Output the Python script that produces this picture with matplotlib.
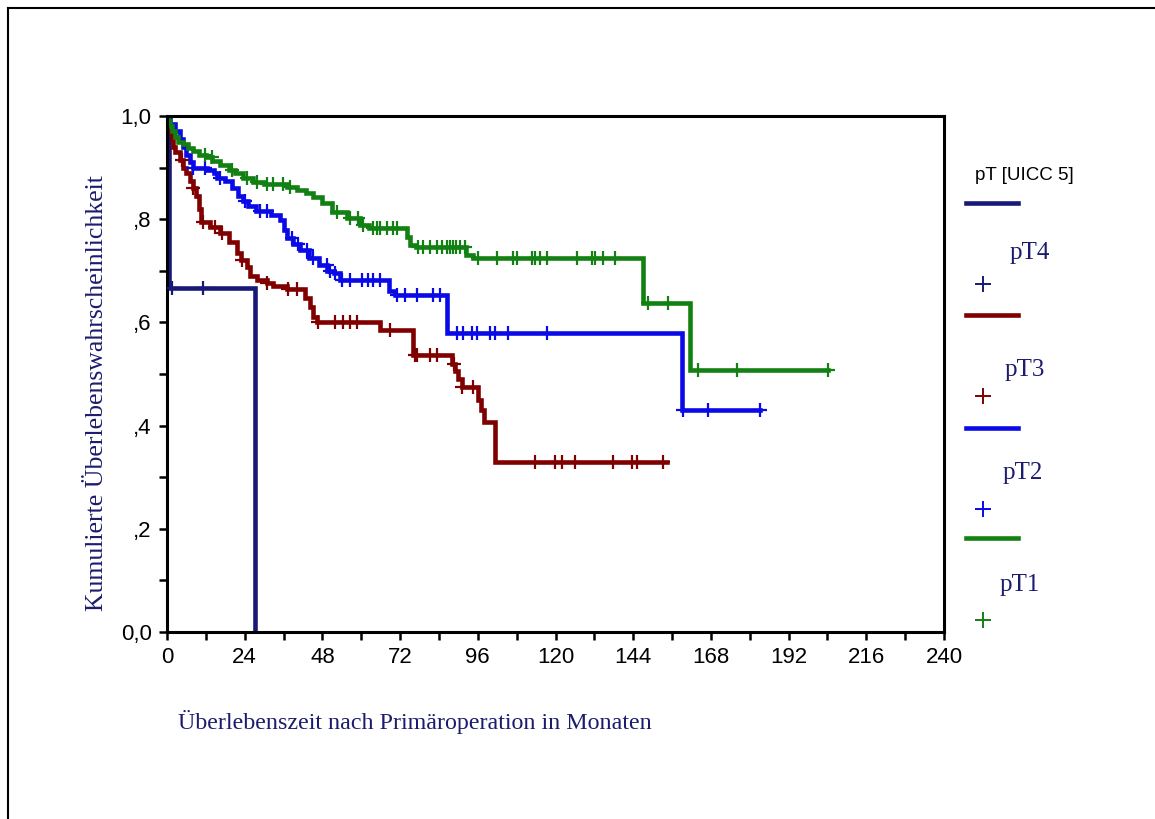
import numpy as np
import matplotlib.pyplot as plt
from matplotlib.lines import Line2D

# ---- data ----
groups = ['pT4', 'pT3', 'pT2', 'pT1']
colors = ['#181878', '#800000', '#0a0ae6', '#128012']

# step points (time in months, cumulative survival)
t4 = [0, 0.5, 27.2]
s4 = [1.0, 0.667, 0.0]
end4 = 27.2
c4 = [1.5, 11.0]

t3 = [0, 0.5, 1, 1.5, 2, 2.5, 4, 5, 6, 7, 8, 9, 10, 10.5, 13.3, 16.4, 19, 21.6, 23, 24.7,
      25.6, 27.8, 30.9, 32.7, 37, 42.6, 44.2, 45.1, 46.3, 65.8, 76, 88, 89, 90, 91, 96, 97,
      98, 101.3]
s3 = [1.0, 0.985, 0.97, 0.955, 0.94, 0.93, 0.915, 0.90, 0.89, 0.875, 0.86, 0.845, 0.82, 0.795,
      0.785, 0.773, 0.755, 0.735, 0.72, 0.707, 0.69, 0.682, 0.676, 0.67, 0.665, 0.648, 0.63,
      0.61, 0.60, 0.585, 0.537, 0.52, 0.505, 0.49, 0.475, 0.45, 0.43, 0.407, 0.329]
end3 = 154.4
c3 = [4.6, 8, 11.1, 14.8, 17, 23.2, 30.9, 37.4, 40.2, 46.6, 51.9, 54.4, 56.5, 58.7, 68.9, 76.5,
      77.2, 81.2, 83.4, 88.5, 91.1, 94.5, 113.7, 119.8, 122, 126, 137.8, 143.6, 145.2, 153.2]

t2 = [0, 1, 2.5, 4, 5, 6, 7, 8, 12.5, 14.5, 15.5, 18, 20, 22, 23.5, 25, 27.5, 32, 35, 36, 37,
      39, 41, 44, 47, 49.5, 51.5, 53.5, 68.5, 70.5, 86.5, 159]
s2 = [1.0, 0.985, 0.97, 0.955, 0.94, 0.925, 0.91, 0.90, 0.895, 0.89, 0.88, 0.875, 0.86, 0.845,
      0.835, 0.825, 0.815, 0.808, 0.798, 0.779, 0.764, 0.752, 0.74, 0.725, 0.711, 0.70, 0.695,
      0.682, 0.66, 0.653, 0.579, 0.43]
end2 = 183.2
c2 = [8, 11.7, 16.4, 24.1, 28.7, 30.9, 38.6, 40.5, 43.2, 45.1, 49.4, 50.3, 51.9, 54.1, 56.5,
      60.2, 62.1, 63.6, 65.8, 71, 73.5, 77.2, 82.2, 84.3, 89.6, 91.4, 94.2, 95.8, 99.8, 101.3,
      105.3, 117.4, 159.4, 167.1, 183.2]

t1 = [0, 0.3, 0.8, 1.5, 2.5, 3.5, 5, 6.5, 8, 10, 12, 14, 16.5, 19, 21, 23.5, 26.5, 30, 37, 40,
      43, 45, 48, 51, 55.5, 59.5, 62.5, 74, 75, 77, 92.5, 94.5, 147, 161.5]
s1 = [1.0, 0.99, 0.98, 0.97, 0.96, 0.95, 0.945, 0.938, 0.932, 0.925, 0.92, 0.912, 0.905, 0.895,
      0.89, 0.88, 0.872, 0.868, 0.862, 0.856, 0.85, 0.843, 0.831, 0.814, 0.802, 0.789, 0.783,
      0.766, 0.75, 0.746, 0.731, 0.725, 0.638, 0.508]
end1 = 204.2
c1 = [11.7, 13.9, 20.1, 24.7, 27.8, 30.9, 32.7, 35.8, 38, 52.5, 56.5, 59, 60.5, 63.6, 64.9,
      65.8, 68, 69.8, 71, 77.5, 79.1, 81.2, 83.4, 84.9, 86.5, 87.4, 88.3, 89.3, 90.5, 92, 96.1,
      101.9, 106.9, 108.1, 112.7, 113.7, 115.2, 117.4, 126.6, 131.3, 132.2, 134.7, 138.4,
      148.6, 154.7, 164, 176.1, 204.2]

curves = [(t4, s4, end4, c4), (t3, s3, end3, c3), (t2, s2, end2, c2), (t1, s1, end1, c1)]

xticks = [0, 24, 48, 72, 96, 120, 144, 168, 192, 216, 240]
yticks = [0.0, 0.2, 0.4, 0.6, 0.8, 1.0]
ytick_labels = ['0,0', ',2', ',4', ',6', ',8', '1,0']

navy = '#1c1c6e'
sans = ['Liberation Sans Narrow', 'Liberation Sans', 'DejaVu Sans']
serif = ['Liberation Serif', 'DejaVu Serif']

fig = plt.figure(figsize=(11.55, 8.19), dpi=100, facecolor='white')
ax = fig.add_axes([167 / 1155, 1 - 632 / 819, (944 - 167) / 1155, (632 - 116) / 819])

for (t, s, end, cens), col in zip(curves, colors):
    tt = list(t)
    ss = list(s)
    if end > tt[-1]:
        tt.append(end)
        ss.append(ss[-1])
    ax.step(tt, ss, where='post', color=col, lw=3.3, solid_joinstyle='miter', zorder=2)
    # censored cases sit on the curve
    cy = [s[np.searchsorted(t, c, side='right') - 1] for c in cens]
    ax.plot(cens, cy, ls='none', marker='+', ms=10, mew=1.6, color=col, zorder=3)

ax.set_xlim(0, 240)
ax.set_ylim(0, 1.0)
ax.set_xticks(xticks)
ax.set_xticks(np.arange(0, 241, 12), minor=True)
ax.set_yticks(yticks)
ax.set_yticklabels(ytick_labels)
ax.set_yticks(np.arange(0, 1.01, 0.1), minor=True)
for sp in ax.spines.values():
    sp.set_linewidth(2.2)
ax.tick_params(which='both', direction='out', width=1.8, length=6, labelsize=16, pad=5)
for lab in ax.get_xticklabels() + ax.get_yticklabels():
    lab.set_family(sans)

fig.text(97 / 1155, 1 - 393 / 819, 'Kumulierte Überlebenswahrscheinlichkeit', rotation=90,
         ha='center', va='center', fontsize=18.5, color=navy, family=serif)
fig.text(178 / 1155, 1 - 722 / 819, 'Überlebenszeit nach Primäroperation in Monaten',
         ha='left', va='center', fontsize=17.3, color=navy, family=serif)

# legend drawn by hand
fig.text(975 / 1155, 1 - 175 / 819, 'pT [UICC 5]', ha='left', va='center', fontsize=13.5,
         color='black', family=sans)
line_y = [203, 315, 428, 538]
lab_pos = [(1010, 253), (1005, 370), (1003, 473), (1000, 585)]
plus_y = [284, 396, 509, 620]
for g, col, ly, (lx, lyy), py in zip(groups, colors, line_y, lab_pos, plus_y):
    fig.add_artist(Line2D([966 / 1155, 1018 / 1155], [1 - ly / 819, 1 - ly / 819],
                          color=col, lw=3.3, transform=fig.transFigure))
    fig.text(lx / 1155, 1 - lyy / 819, g, ha='left', va='center', fontsize=18,
             color=navy, family=serif)
    fig.add_artist(Line2D([983 / 1155], [1 - py / 819], ls='none', marker='+', ms=11,
                          mew=1.4, color=col, transform=fig.transFigure))

# outer frame
fig.add_artist(Line2D([8 / 1155, 1.0], [1 - 8 / 819, 1 - 8 / 819], color='black', lw=1.5,
                      transform=fig.transFigure))
fig.add_artist(Line2D([8 / 1155, 8 / 1155], [0, 1 - 8 / 819], color='black', lw=1.5,
                      transform=fig.transFigure))

fig.savefig('out.png', dpi=100, facecolor='white')
